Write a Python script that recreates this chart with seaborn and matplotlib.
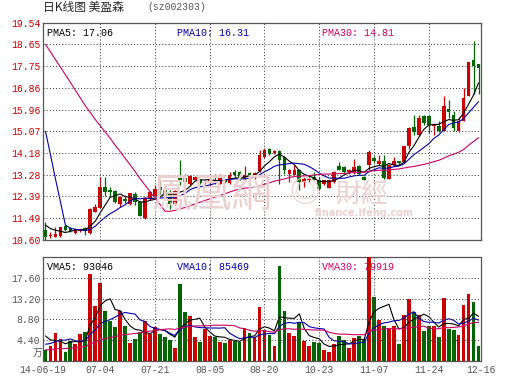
import numpy as np
import pandas as pd
import matplotlib
matplotlib.use("Agg")
import matplotlib.pyplot as plt
import seaborn as sns

# daily K line data, 美盈森 sz002303 (price in yuan, volume in 万)
opens = [11.01, 10.77, 10.74, 10.78, 11.18, 11.08, 10.88, 10.97, 11.08, 10.88,
         11.77, 11.91, 12.80, 12.66, 12.62, 12.07, 12.29, 12.07, 12.50, 12.15,
         11.50, 12.30, 12.43, 12.78, 12.67, 12.57, 12.09, 13.22, 13.16, 12.92,
         13.08, 13.08, 12.94, 12.94, 13.08, 12.92, 13.08, 12.94, 13.40, 13.40,
         13.12, 13.36, 13.24, 13.44, 14.00, 14.36, 14.16, 14.26, 14.02, 13.33,
         13.26, 13.46, 12.98, 13.05, 13.19, 13.08, 12.92, 12.75, 12.98, 13.63,
         13.60, 13.40, 13.36, 13.63, 13.19, 13.67, 13.97, 13.73, 13.84, 13.12,
         13.70, 13.84, 13.81, 14.46, 15.24, 14.91, 15.69, 15.69, 15.30, 15.28,
         15.10, 16.00, 15.76, 15.07, 15.49, 16.54, 18.00, 17.83]
closes = [10.74, 10.81, 10.85, 11.12, 11.01, 10.99, 11.04, 11.01, 10.99, 11.87,
          11.95, 12.80, 12.59, 12.59, 12.15, 12.36, 12.21, 12.52, 12.15, 11.60,
          12.32, 12.57, 12.71, 12.64, 12.43, 12.09, 12.61, 13.08, 12.98, 13.22,
          13.19, 12.94, 13.02, 13.08, 13.01, 13.16, 13.00, 13.29, 13.26, 13.12,
          13.29, 13.23, 13.36, 14.08, 14.29, 14.14, 14.27, 13.88, 13.46, 13.46,
          13.46, 12.98, 13.12, 13.12, 13.08, 12.71, 13.05, 13.05, 13.40, 13.49,
          13.40, 13.49, 13.60, 13.33, 13.08, 14.22, 13.85, 13.84, 13.15, 13.70,
          13.87, 13.77, 14.46, 15.21, 15.05, 15.60, 15.42, 15.35, 15.34, 15.10,
          16.11, 15.87, 15.19, 15.49, 16.45, 17.93, 17.75, 17.69]
highs = [11.33, 10.94, 11.15, 11.15, 11.22, 11.15, 11.08, 11.05, 11.15, 11.91,
         12.07, 13.21, 13.21, 12.80, 12.66, 12.43, 12.46, 12.55, 12.57, 12.20,
         12.36, 12.60, 12.85, 13.05, 12.78, 12.64, 12.64, 13.88, 13.33, 13.26,
         13.22, 13.12, 13.08, 13.19, 13.33, 13.33, 13.12, 13.40, 13.47, 13.44,
         13.63, 13.40, 13.40, 14.29, 14.38, 14.40, 14.30, 14.30, 14.05, 13.53,
         13.67, 13.53, 13.19, 13.26, 13.40, 13.19, 13.08, 13.08, 13.44, 13.81,
         13.63, 13.53, 13.95, 13.67, 13.22, 14.29, 14.05, 14.11, 14.08, 13.74,
         14.00, 13.87, 14.48, 15.24, 15.76, 15.76, 15.74, 15.76, 15.38, 15.49,
         16.52, 16.35, 15.90, 15.65, 16.84, 17.94, 18.79, 17.83]
lows = [10.60, 10.70, 10.73, 10.74, 10.97, 10.94, 10.85, 10.94, 10.81, 10.85,
        11.77, 11.91, 12.39, 12.39, 12.11, 11.97, 12.11, 12.04, 12.04, 11.57,
        11.48, 12.25, 12.39, 12.50, 12.36, 11.88, 12.06, 12.85, 12.85, 12.85,
        13.05, 12.92, 12.90, 12.78, 12.92, 12.89, 12.96, 12.92, 13.19, 13.08,
        13.08, 13.19, 13.05, 13.40, 13.99, 14.10, 14.12, 12.90, 13.32, 12.98,
        13.26, 12.64, 12.78, 12.98, 13.05, 12.67, 12.88, 12.72, 12.95, 13.46,
        13.36, 13.33, 13.33, 13.29, 13.05, 13.47, 13.78, 13.70, 13.13, 13.10,
        13.63, 13.70, 13.77, 14.36, 14.94, 14.87, 15.35, 15.01, 14.94, 15.05,
        15.07, 15.62, 15.07, 15.05, 15.49, 16.52, 16.62, 16.62]
volumes = [2.34, 3.19, 6.02, 4.61, 1.98, 4.32, 3.61, 5.74, 6.24, 18.5,
           11.69, 16.58, 10.63, 8.36, 7.09, 10.63, 7.30, 3.76, 4.68, 6.24,
           8.36, 5.81, 7.09, 5.81, 5.17, 4.39, 2.83, 16.2, 10.4, 9.57,
           5.03, 4.11, 6.80, 5.30, 5.17, 4.11, 3.76, 4.46, 4.32, 4.11,
           6.94, 6.02, 5.17, 11.48, 6.59, 5.5, 3.2, 20.0, 10.6, 6.0,
           5.3, 8.0, 4.3, 3.2, 4.1, 3.9, 2.3, 2.0, 3.6, 5.3,
           4.5, 2.8, 4.9, 5.3, 4.7, 23.5, 13.5, 8.7, 7.4, 6.9,
           7.4, 3.6, 9.8, 13.2, 10.3, 9.8, 6.4, 7.3, 7.4, 5.0,
           13.3, 6.8, 6.6, 5.5, 11.9, 14.2, 12.5, 3.2]

# the 29 sessions before the window, only used by the moving averages
pre_closes = [20.1, 20.3, 20.6, 20.2, 20.5, 20.8, 20.4, 20.7, 20.3, 20.5,
              20.6, 20.2, 20.4, 20.6, 20.3, 20.5, 20.4, 20.6, 20.5, 20.3,
              20.4, 20.8, 20.5, 20.66, 12.3, 11.5, 11.2, 11.3, 11.3]
pre_volumes = [1.7, 1.8, 1.6, 1.9, 1.7, 1.8, 1.7, 1.6, 1.8, 1.9,
               1.7, 1.8, 1.7, 1.6, 1.8, 1.7, 1.9, 1.7, 1.8, 1.7,
               1.8, 1.7, 1.9, 1.8, 1.8, 7.5, 6.5, 5.5, 4.7]

date_labels = ["14-06-19", "07-04", "07-21", "08-05", "08-20", "10-23", "11-07", "11-24", "12-16"]
date_pos = [-0.5, 11, 22, 33, 44, 55, 66, 77, 87.5]
price_ticks = [10.60, 11.49, 12.39, 13.28, 14.18, 15.07, 15.96, 16.86, 17.75, 18.65, 19.54]
vol_ticks = [4.4, 8.8, 13.2, 17.6]
vol_tick_labels = ["4.40", "8.80", "13.20", "17.60"]
price_legend = ["PMA5: 17.06", "PMA10: 16.31", "PMA30: 14.81"]
vol_legend = ["VMA5: 93046", "VMA10: 85469", "VMA30: 79919"]

RED = "#cc0000"
GREEN = "#006600"
MA_COLORS = ["#000000", "#0000aa", "#cc0066"]
GRID = "#444444"
MONO = "Liberation Mono"

sns.set_style("white")
plt.rcParams["font.family"] = [MONO, "Noto Sans CJK SC", "DejaVu Sans"]

o = np.array(opens); c = np.array(closes)
h = np.array(highs); l = np.array(lows)
v = np.array(volumes)
x = np.arange(len(c))
colors = np.where(c >= o, RED, GREEN)

def moving(pre, vals, n):
    s = pd.Series(list(pre) + list(vals)).rolling(n).mean()
    return s.iloc[len(pre):].to_numpy()

W, H = 530, 391
fig = plt.figure(figsize=(W / 100, H / 100), dpi=100)
ax1 = fig.add_axes([43 / W, 1 - 240 / H, 438 / W, (240 - 22.7) / H])
ax2 = fig.add_axes([43 / W, 1 - 361 / H, 438 / W, (361 - 257) / H])

# watermark
wm = "#ecd0d0"
fig.text(212 / W, 1 - 196 / H, "鳳凰網", color=wm, fontsize=29, ha="center", va="center",
         family=["Noto Sans CJK TC"], zorder=0)
fig.text(305 / W, 1 - 194 / H, "◎", color=wm, fontsize=22, ha="center", va="center",
         family=["Noto Sans CJK TC"], zorder=0)
fig.text(362 / W, 1 - 194 / H, "財經", color=wm, fontsize=19, ha="center", va="center",
         family=["Noto Sans CJK TC"], zorder=0)
fig.text(364 / W, 1 - 213 / H, "finance.ifeng.com", color=wm, fontsize=7, ha="center",
         va="center", family=["DejaVu Sans"], weight="bold", zorder=0)
for a in (ax1, ax2):
    a.patch.set_alpha(0)

# candles
ax1.vlines(x, l, h, colors=colors, lw=0.9, zorder=2)
ax1.bar(x, np.maximum(np.abs(c - o), 0.03), bottom=np.minimum(o, c), width=0.74,
        color=colors, linewidth=0, zorder=3)
for n, col in zip([5, 10, 30], MA_COLORS):
    sns.lineplot(x=x, y=moving(pre_closes, closes, n), ax=ax1, color=col, lw=0.8, zorder=4)

# volume
ax2.bar(x, v, width=0.76, color=colors, linewidth=0, zorder=3)
for n, col in zip([5, 10, 30], MA_COLORS):
    sns.lineplot(x=x, y=moving(pre_volumes, volumes, n), ax=ax2, color=col, lw=0.8, zorder=4)

for a in (ax1, ax2):
    a.set_xlim(-0.5, 87.5)
    for xv in date_pos[1:-1]:
        a.axvline(xv, color=GRID, ls=(0, (1, 2)), lw=0.75, zorder=5)
    for s in a.spines.values():
        s.set_color("#555555")
        s.set_linewidth(0.9)
    a.set_xlabel("")
    a.set_ylabel("")

ax1.set_ylim(price_ticks[0], price_ticks[-1])
for yv in price_ticks[1:-1]:
    ax1.axhline(yv, color=GRID, ls=(0, (1, 2)), lw=0.75, zorder=5)
ax1.set_yticks(price_ticks)
ax1.set_yticklabels([f"{t:.2f}" for t in price_ticks], color=RED, fontsize=7, family=MONO)
ax1.set_xticks([])
ax1.tick_params(axis="y", length=0, pad=2)

ax2.set_ylim(0, 22)
for yv in vol_ticks:
    ax2.axhline(yv, color=GRID, ls=(0, (1, 2)), lw=0.75, zorder=5)
ax2.set_yticks(vol_ticks)
ax2.set_yticklabels(vol_tick_labels, color="#555555", fontsize=7, family=MONO)
ax2.set_xticks(date_pos)
ax2.set_xticklabels(date_labels, color="#555555", fontsize=7, family=MONO)
ax2.tick_params(axis="both", length=0, pad=2)
ax2.tick_params(axis="x", pad=3)
ax2.text(-5.5 / 438, 8 / 104, "万", transform=ax2.transAxes, ha="center", va="center",
         fontsize=7, color="#555555", family=["Noto Sans CJK SC"])

# legends
for lab, col, px in zip(price_legend, MA_COLORS, [47, 177, 322]):
    fig.text(px / W, 1 - 32.5 / H, lab, color=col, fontsize=7.2, family=MONO, va="center")
for lab, col, px in zip(vol_legend, MA_COLORS, [47, 177, 322]):
    t = ax2.text((px - 43) / 438, (361 - 266.5) / 104, lab, color=col, fontsize=7.2,
                 family=MONO, va="center", transform=ax2.transAxes, zorder=2)

# title
fig.text(43 / W, 1 - 7.5 / H, "日K线图 美盈森", fontsize=8.5, va="center",
         family=["Noto Sans CJK SC", "DejaVu Sans"])
fig.text(147 / W, 1 - 7.5 / H, "(sz002303)", fontsize=7, va="center", color="#555555",
         family=MONO)

fig.savefig("out.png", dpi=100, facecolor="white")
